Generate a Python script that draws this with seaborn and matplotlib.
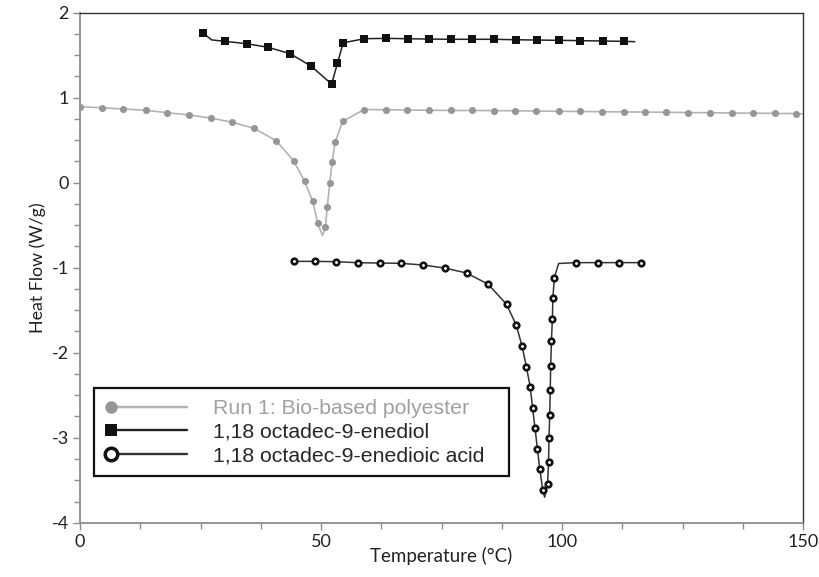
import pandas as pd
import matplotlib.pyplot as plt
from matplotlib.lines import Line2D
from matplotlib.legend_handler import HandlerLine2D
from matplotlib.ticker import MultipleLocator
import seaborn as sns

# Run 1: bio-based polyester (points that carry a marker)
poly_T = [0, 4.5, 9.0, 13.6, 18.1, 22.6, 27.1, 31.6, 36.1, 40.7, 44.3, 46.6,
          48.3, 49.3, 50.9, 51.3, 51.8, 52.3, 52.9, 54.5, 58.9, 63.4, 67.8,
          72.4, 76.9, 81.3, 85.9, 90.2, 94.7, 99.3, 103.8, 108.3, 112.8,
          117.2, 121.6, 126.2, 130.7, 135.2, 139.6, 144.1, 148.6]
poly_hf = [0.894, 0.882, 0.867, 0.852, 0.824, 0.797, 0.761, 0.711, 0.64,
           0.494, 0.259, 0.016, -0.219, -0.478, -0.525, -0.282, -0.007, 0.24,
           0.475, 0.722, 0.86, 0.859, 0.855, 0.852, 0.85, 0.85, 0.848, 0.846,
           0.843, 0.84, 0.838, 0.835, 0.833, 0.831, 0.829, 0.825, 0.823, 0.82,
           0.818, 0.815, 0.813]
# trace points without a marker (trough, end of scan)
poly_extra_T = [50.3, 150.0]
poly_extra_hf = [-0.62, 0.81]

# 1,18 octadec-9-enediol
diol_T = [25.6, 30.1, 34.6, 39.0, 43.6, 48.0, 52.2, 53.4, 54.6, 59.0, 63.5,
          68.0, 72.4, 76.9, 81.4, 85.9, 90.4, 94.9, 99.4, 103.8, 108.4, 112.8]
diol_hf = [1.758, 1.663, 1.635, 1.593, 1.518, 1.369, 1.16, 1.405, 1.646,
           1.694, 1.698, 1.694, 1.69, 1.687, 1.687, 1.687, 1.682, 1.678,
           1.675, 1.671, 1.667, 1.663]
diol_extra_T = [27.3, 115.1]
diol_extra_hf = [1.68, 1.659]

# 1,18 octadec-9-enedioic acid
acid_T = [44.3, 48.7, 53.2, 57.7, 62.2, 66.5, 71.2, 75.7, 80.2, 84.7, 88.5,
          90.5, 91.7, 92.6, 93.4, 93.9, 94.4, 94.9, 95.4, 96.0, 97.0, 97.2,
          97.3, 97.45, 97.55, 97.65, 97.8, 98.0, 98.1, 98.4, 102.9, 107.5,
          111.9, 116.3]
acid_hf = [-0.925, -0.925, -0.929, -0.941, -0.945, -0.948, -0.968, -1.004,
           -1.062, -1.195, -1.431, -1.675, -1.92, -2.165, -2.40, -2.654, -2.89,
           -3.137, -3.372, -3.618, -3.548, -3.29, -3.0, -2.73, -2.439, -2.157,
           -1.859, -1.604, -1.36, -1.115, -0.94, -0.94, -0.94, -0.94]
acid_extra_T = [96.4, 99.3]
acid_extra_hf = [-3.70, -0.95]

labels = ["Run 1: Bio-based polyester",
          "1,18 octadec-9-enediol",
          "1,18 octadec-9-enedioic acid"]

sns.set_style("ticks")
plt.rcParams.update({
    "font.family": ["Lato", "DejaVu Sans"],
    "font.size": 12,
    "axes.linewidth": 1.0,
    "axes.unicode_minus": False,
})


class MarkerFirst(HandlerLine2D):
    # marker sits at the left end of the legend line, like the original
    def create_artists(self, *args, **kwargs):
        artists = super().create_artists(*args, **kwargs)
        for a in artists:
            a.set_markevery([0])
        return artists


def trace(T, hf, T_extra, hf_extra):
    df = pd.DataFrame({"T": list(T) + list(T_extra),
                       "hf": list(hf) + list(hf_extra)})
    return df.sort_values("T")


fig = plt.figure(figsize=(8.2, 5.77), dpi=100)
ax = fig.add_axes([0.0976, 0.094, 0.8817, 0.884])

series = [
    dict(T=poly_T, hf=poly_hf, Tx=poly_extra_T, hfx=poly_extra_hf,
         line="#b3b3b3", lw=1.2, marker="o", fc="#969696", ec="#969696",
         s=26, mew=0),
    dict(T=diol_T, hf=diol_hf, Tx=diol_extra_T, hfx=diol_extra_hf,
         line="#222222", lw=1.1, marker="s", fc="#111111", ec="#111111",
         s=26, mew=0),
    dict(T=acid_T, hf=acid_hf, Tx=acid_extra_T, hfx=acid_extra_hf,
         line="#333333", lw=1.1, marker="o", fc="white", ec="#111111",
         s=16, mew=1.9),
]

handles = []
for sr in series:
    df_line = trace(sr["T"], sr["hf"], sr["Tx"], sr["hfx"])
    sns.lineplot(data=df_line, x="T", y="hf", estimator=None, sort=False,
                 color=sr["line"], linewidth=sr["lw"], ax=ax, zorder=2)
    df_mk = pd.DataFrame({"T": sr["T"], "hf": sr["hf"]})
    sns.scatterplot(data=df_mk, x="T", y="hf", marker=sr["marker"],
                    s=sr["s"], color=sr["fc"], edgecolor=sr["ec"],
                    linewidth=sr["mew"], ax=ax, zorder=3)
    handles.append(Line2D([], [], color=sr["line"], linewidth=sr["lw"] + 0.6,
                          marker=sr["marker"], markersize=9 if sr["marker"] == "o" else 8,
                          markerfacecolor=sr["fc"], markeredgecolor=sr["ec"],
                          markeredgewidth=sr["mew"] + (0.6 if sr["mew"] else 0)))

ax.set_xlim(0, 150)
ax.set_ylim(-4, 2)
ax.xaxis.set_major_locator(MultipleLocator(50))
ax.xaxis.set_minor_locator(MultipleLocator(12.5))
ax.yaxis.set_major_locator(MultipleLocator(1))
ax.yaxis.set_minor_locator(MultipleLocator(0.25))
ax.tick_params(which="both", direction="out", color="#8c8c8c", width=1.0,
               labelsize=13, labelcolor="#222222")
ax.tick_params(which="major", length=5, pad=3)
ax.tick_params(which="minor", length=4)

for side in ["left", "bottom"]:
    ax.spines[side].set_color("#8c8c8c")
    ax.spines[side].set_linewidth(1.3)
for side in ["top", "right"]:
    ax.spines[side].set_color("#333333")
    ax.spines[side].set_linewidth(1.0)

ax.set_xlabel("Temperature (°C)", fontsize=13.5, labelpad=-2, color="#222222")
ax.set_ylabel("Heat Flow (W/g)", fontsize=12.8, labelpad=4, color="#222222")

leg = ax.legend(handles, labels, loc="lower left",
                bbox_to_anchor=(0.019, 0.0916, 0.575, 0.186), mode="expand",
                handler_map={Line2D: MarkerFirst(numpoints=2)},
                handlelength=4.2, handletextpad=0.9, borderpad=0.5,
                labelspacing=0.22, borderaxespad=0, fancybox=False,
                framealpha=1, edgecolor="#111111",
                prop={"family": ["Liberation Sans", "DejaVu Sans"], "size": 15.3})
leg.get_frame().set_linewidth(1.6)
leg.get_texts()[0].set_color("#a0a0a0")

fig.savefig("out.png", dpi=100)
